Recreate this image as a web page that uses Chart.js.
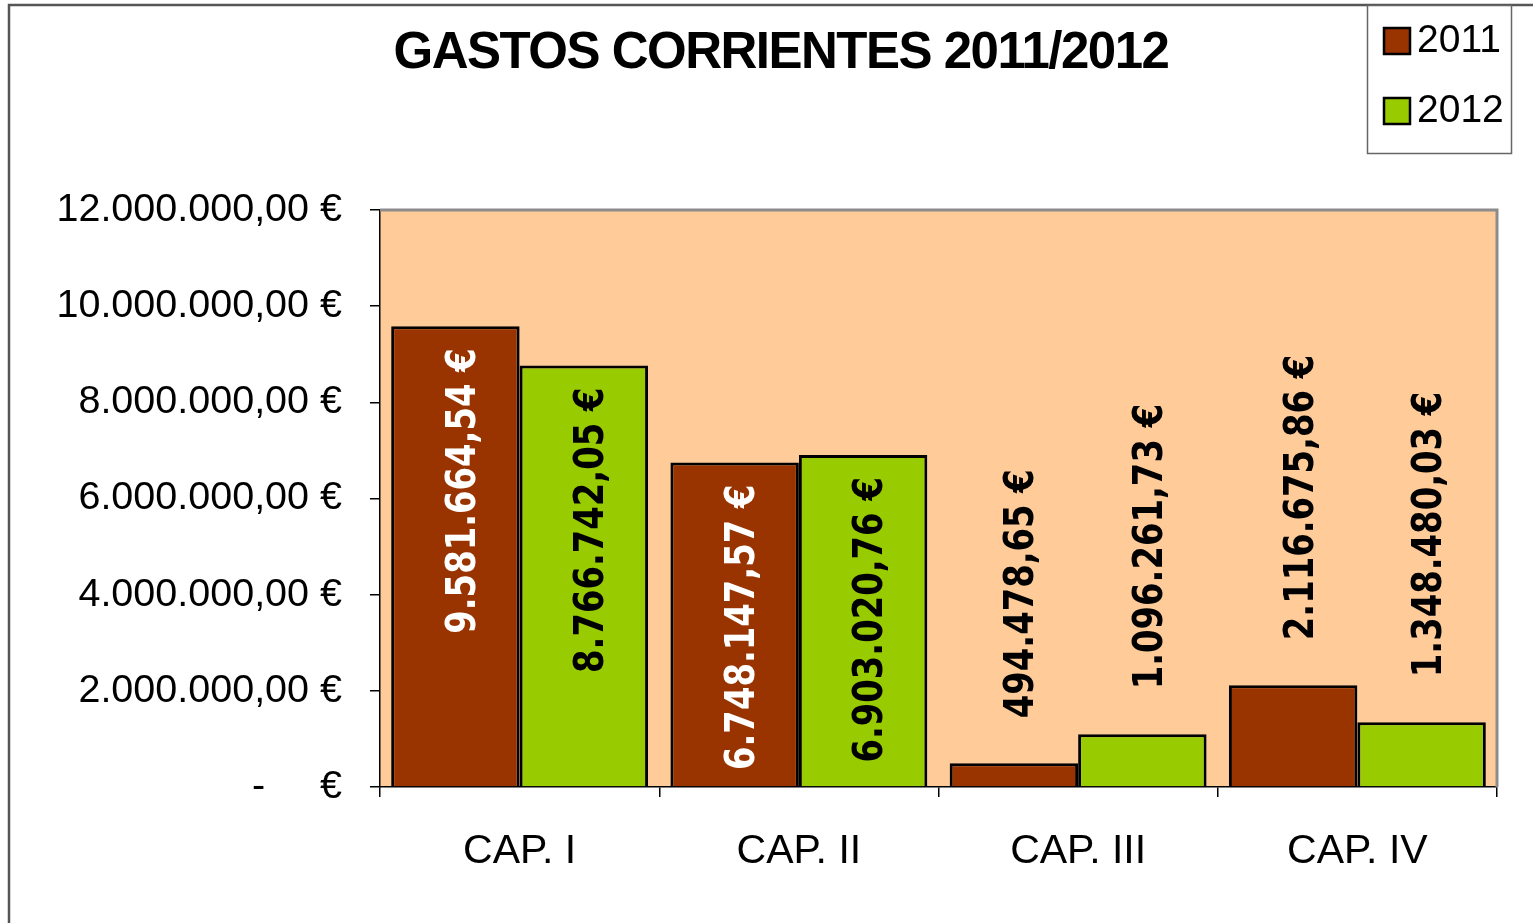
<!DOCTYPE html>
<html>
<head>
<meta charset="utf-8">
<script src="https://cdn.jsdelivr.net/npm/chart.js@4.4.1/dist/chart.umd.min.js"></script>
<style>
  html, body { margin: 0; padding: 0; background: #fff; }
  #wrap { width: 1533px; height: 923px; }
</style>
</head>
<body>
<div id="wrap"><canvas id="chartGastos" width="1533" height="923"></canvas></div>
<script>
// ---------------------------------------------------------------------------
//  DATEN
// ---------------------------------------------------------------------------
const chartTitle = "GASTOS CORRIENTES 2011/2012";
const categories = ["CAP. I", "CAP. II", "CAP. III", "CAP. IV"];
const seriesNames = ["2011", "2012"];
const gastos2011 = [9581664.54, 6748147.57, 494478.65, 2116675.86];
const gastos2012 = [8766742.05, 6903020.76, 1096261.73, 1348480.03];
const yMin = 0;
const yMax = 12000000;
const yStep = 2000000;

// Excel-Buchhaltungsformat: 12.000.000,00 €
function euro(v) {
    if (v === 0) return "-     €";
    const parts = v.toFixed(2).split(".");
    return parts[0].replace(/\B(?=(\d{3})+(?!\d))/g, ".") + "," + parts[1] + " €";
}

// ---------------------------------------------------------------------------
//  HINTERGRUND, RAHMEN, TITEL
// ---------------------------------------------------------------------------
const framePlugin = {
    id: "frame",
    beforeDraw(chart) {
        const { ctx, chartArea: a } = chart;
        ctx.save();
        ctx.fillStyle = "#fff";
        ctx.fillRect(0, 0, chart.width, chart.height);
        ctx.strokeStyle = "#555";
        ctx.lineWidth = 2.5;
        ctx.strokeRect(9, 5, chart.width + 50, chart.height + 50);
        ctx.fillStyle = "#FFCC99";
        ctx.fillRect(a.left, a.top, a.right - a.left, a.bottom - a.top);
        ctx.restore();
    },
    afterDraw(chart) {
        const { ctx, chartArea: a } = chart;
        ctx.save();
        // Plotrahmen oben/rechts
        ctx.strokeStyle = "#8c8c8c";
        ctx.lineWidth = 3;
        ctx.beginPath();
        ctx.moveTo(a.left, a.top);
        ctx.lineTo(a.right, a.top);
        ctx.lineTo(a.right, a.bottom);
        ctx.stroke();

        // Titel
        ctx.fillStyle = "#000";
        ctx.font = "bold 51px 'Liberation Sans', Arial, sans-serif";
        ctx.letterSpacing = "-1.5px";
        ctx.textAlign = "center";
        ctx.textBaseline = "middle";
        ctx.fillText(chartTitle, 781, 54);
        ctx.restore();
    }
};

// ---------------------------------------------------------------------------
//  LEGENDE (Kasten oben rechts)
// ---------------------------------------------------------------------------
const legendBoxPlugin = {
    id: "legendBox",
    afterDraw(chart) {
        const ctx = chart.ctx;
        ctx.save();
        ctx.fillStyle = "#fff";
        ctx.fillRect(1367, 5, 144, 148);
        ctx.strokeStyle = "#666";
        ctx.lineWidth = 1.5;
        ctx.strokeRect(1367.5, 5.5, 144, 148);
        ctx.font = "39px 'Liberation Sans', Arial, sans-serif";
        ctx.textBaseline = "middle";
        chart.data.datasets.forEach((ds, i) => {
            const cy = 41 + i * 70;
            ctx.fillStyle = ds.backgroundColor;
            ctx.fillRect(1384, cy - 13, 26, 26);
            ctx.strokeStyle = "#000";
            ctx.lineWidth = 2.5;
            ctx.strokeRect(1384, cy - 13, 26, 26);
            ctx.fillStyle = "#000";
            ctx.fillText(ds.label, 1417, cy);
        });
        ctx.restore();
    }
};

// ---------------------------------------------------------------------------
//  DATENBESCHRIFTUNG (senkrecht)
// ---------------------------------------------------------------------------
const LABEL_SX = 0.845;
const valueLabelPlugin = {
    id: "valueLabels",
    afterDatasetsDraw(chart) {
        const ctx = chart.ctx;
        ctx.save();
        ctx.font = "bold 40px 'DejaVu Sans', Verdana, sans-serif";
        chart.data.datasets.forEach((ds, i) => {
            chart.getDatasetMeta(i).data.forEach((bar, j) => {
                const txt = euro(ds.data[j]);
                const len = ctx.measureText(txt).width * LABEL_SX;
                const inside = (bar.base - bar.y) > len + 20;
                ctx.save();
                ctx.translate(bar.x + 9, inside ? bar.y + 22 : bar.y - 45);
                ctx.rotate(-Math.PI / 2);
                ctx.scale(LABEL_SX, 1);
                ctx.textAlign = inside ? "right" : "left";
                ctx.textBaseline = "middle";
                ctx.fillStyle = inside ? ds.labelColor : "#000";
                ctx.fillText(txt, 0, 0);
                ctx.restore();
            });
        });
        ctx.restore();
    }
};

// ---------------------------------------------------------------------------
//  CHART
// ---------------------------------------------------------------------------
new Chart(document.getElementById("chartGastos"), {
    type: "bar",
    data: {
        labels: categories,
        datasets: [{
            label: seriesNames[0],
            data: gastos2011,
            backgroundColor: "#993300",
            borderColor: "#000",
            borderWidth: 3,
            labelColor: "#fff",
            categoryPercentage: 0.92,
            barPercentage: 1.0
        }, {
            label: seriesNames[1],
            data: gastos2012,
            backgroundColor: "#99CC00",
            borderColor: "#000",
            borderWidth: 3,
            labelColor: "#000",
            categoryPercentage: 0.92,
            barPercentage: 1.0
        }]
    },
    options: {
        responsive: false,
        animation: false,
        layout: { padding: { top: 210, right: 36, bottom: 0, left: 0 } },
        plugins: {
            legend: { display: false },
            title: { display: false },
            tooltip: { enabled: false }
        },
        scales: {
            x: {
                grid: { offset: true, drawOnChartArea: false, color: "#000", tickLength: 10, lineWidth: 1.5 },
                border: { color: "#000", width: 1.5 },
                ticks: {
                    color: "#000",
                    padding: 30,
                    font: { family: "'Liberation Sans', Arial, sans-serif", size: 41 }
                },
                afterFit(scale) { scale.height = 136; }
            },
            y: {
                min: yMin,
                max: yMax,
                grid: { drawOnChartArea: false, color: "#000", tickLength: 10, lineWidth: 1.5 },
                border: { color: "#000", width: 1.5 },
                ticks: {
                    stepSize: yStep,
                    color: "#000",
                    padding: 28,
                    font: { family: "'Liberation Sans', Arial, sans-serif", size: 39.5 },
                    callback: v => euro(v)
                },
                afterFit(scale) { scale.width = 380; }
            }
        }
    },
    plugins: [framePlugin, legendBoxPlugin, valueLabelPlugin]
});
</script>
</body>
</html>
